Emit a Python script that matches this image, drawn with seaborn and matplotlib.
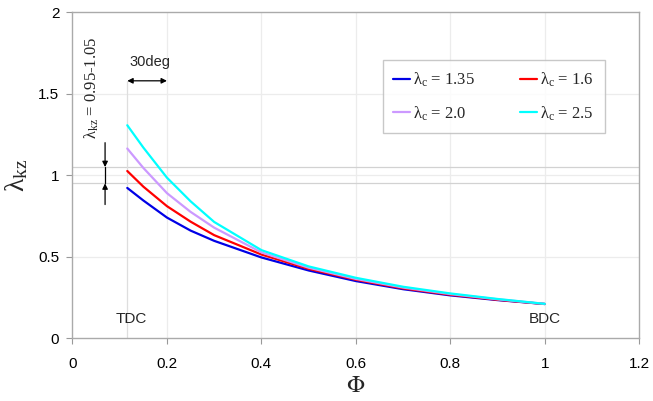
import matplotlib
matplotlib.use("Agg")
import matplotlib.pyplot as plt
import seaborn as sns
import pandas as pd

# Relative position along the stroke (TDC -> BDC)
phi = [0.116, 0.15, 0.2, 0.25, 0.3, 0.4, 0.5, 0.6, 0.7, 0.8, 0.9, 1.0]

# lambda_kz for each lambda_c
lam_135 = [0.922, 0.845, 0.74, 0.66, 0.597, 0.495, 0.415, 0.35, 0.30, 0.262, 0.233, 0.209]
lam_160 = [1.026, 0.93, 0.81, 0.715, 0.632, 0.513, 0.425, 0.358, 0.305, 0.266, 0.235, 0.209]
lam_200 = [1.164, 1.045, 0.89, 0.775, 0.678, 0.526, 0.432, 0.363, 0.31, 0.27, 0.238, 0.21]
lam_250 = [1.307, 1.17, 0.985, 0.84, 0.713, 0.54, 0.44, 0.37, 0.315, 0.274, 0.24, 0.21]

series_labels = [r"$\mathregular{λ_c}$ = 1.35", r"$\mathregular{λ_c}$ = 1.6",
                 r"$\mathregular{λ_c}$ = 2.0", r"$\mathregular{λ_c}$ = 2.5"]
series_values = [lam_135, lam_160, lam_200, lam_250]
series_colors = ["#0000e6", "#ff0000", "#cc99ff", "#00ffff"]

x_ticks = [0, 0.2, 0.4, 0.6, 0.8, 1.0, 1.2]
x_tick_labels = ["0", "0.2", "0.4", "0.6", "0.8", "1", "1.2"]
y_ticks = [0, 0.5, 1.0, 1.5, 2.0]
y_tick_labels = ["0", "0.5", "1", "1.5", "2"]

band_low, band_high = 0.95, 1.05

rows = []
for lab, vals in zip(series_labels, series_values):
    for p, v in zip(phi, vals):
        rows.append({"phi": p, "lam": v, "series": lab})
df = pd.DataFrame(rows)

sns.set_theme(style="white")
plt.rcParams["font.family"] = ["Liberation Sans", "DejaVu Sans"]
plt.rcParams["mathtext.fontset"] = "stix"
serif = ["Liberation Serif", "DejaVu Serif"]

fig = plt.figure(figsize=(6.53, 4.01), dpi=100)
ax = fig.add_axes([0.111, 0.157, 0.868, 0.812])

# grid and reference lines
for xv in x_ticks[1:-1]:
    ax.axvline(xv, color="#ececec", lw=0.9, zorder=0)
for yv in y_ticks[1:-1]:
    ax.axhline(yv, color="#ececec", lw=0.9, zorder=0)
ax.axhline(band_low, color="#d2d2d2", lw=0.9, zorder=0.5)
ax.axhline(band_high, color="#d2d2d2", lw=0.9, zorder=0.5)
ax.plot([phi[0], phi[0]], [0, 1.58], color="#dedede", lw=0.9, zorder=0.5)

sns.lineplot(data=df, x="phi", y="lam", hue="series", hue_order=series_labels,
             palette=dict(zip(series_labels, series_colors)), lw=1.6,
             ax=ax, legend=True, zorder=3)

ax.set_xlim(0, 1.2)
ax.set_ylim(0, 2)
ax.set_xticks(x_ticks)
ax.set_xticklabels(x_tick_labels)
ax.set_yticks(y_ticks)
ax.set_yticklabels(y_tick_labels)
ax.tick_params(axis="both", which="major", direction="out", length=4.5,
               width=0.8, color="#999999", labelsize=11, labelcolor="black")
ax.tick_params(axis="x", pad=9)
ax.tick_params(axis="y", pad=5)
ax.tick_params(left=True, bottom=True)
for s in ax.spines.values():
    s.set_color("#aaaaaa")
    s.set_linewidth(1.0)

ax.set_xlabel(r"$\Phi$", fontsize=17, labelpad=3)
ax.set_ylabel(r"$\mathregular{λ_{kz}}$", fontsize=20, family=serif)
ax.yaxis.set_label_coords(-0.075, 0.5)

# legend filled row by row
handles, labels = ax.get_legend_handles_labels()
order = [0, 2, 1, 3]
leg = ax.legend([handles[i] for i in order], [labels[i] for i in order],
                loc="upper left", bbox_to_anchor=(0.547, 0.854), ncol=2,
                frameon=True, fancybox=False, prop={"size": 12, "family": serif},
                handlelength=1.0, handletextpad=0.2, columnspacing=2.7,
                labelspacing=0.9, borderpad=0.65, borderaxespad=0.0)
leg.get_frame().set_edgecolor("#bbbbbb")
leg.get_frame().set_linewidth(1.0)

# annotations
ax.text(phi[0] + 0.008, 0.12, "TDC", fontsize=11, ha="center", va="center",
        zorder=4)
ax.text(1.0, 0.12, "BDC", fontsize=11, ha="center", va="center", zorder=4)

ax.annotate("", xy=(phi[0], 1.58), xytext=(0.2, 1.58),
            arrowprops=dict(arrowstyle="<|-|>", color="black", lw=0.9,
                            mutation_scale=8, shrinkA=0, shrinkB=0))
ax.text(0.164, 1.695, "30deg", fontsize=10.5, ha="center", va="center")

xa = 0.069
ax.annotate("", xy=(xa, band_high), xytext=(xa, 1.2),
            arrowprops=dict(arrowstyle="-|>", color="black", lw=0.9,
                            mutation_scale=8, shrinkA=0, shrinkB=0))
ax.annotate("", xy=(xa, band_low), xytext=(xa, 0.82),
            arrowprops=dict(arrowstyle="-|>", color="black", lw=0.9,
                            mutation_scale=8, shrinkA=0, shrinkB=0))
ax.plot([xa, xa], [band_low, band_high], color="black", lw=0.9)
ax.text(0.041, 1.54, r"$\mathregular{λ_{kz}}$ = 0.95-1.05", rotation=90,
        fontsize=12, ha="center", va="center", family=serif)

fig.savefig("out.png", dpi=100, facecolor="white")
